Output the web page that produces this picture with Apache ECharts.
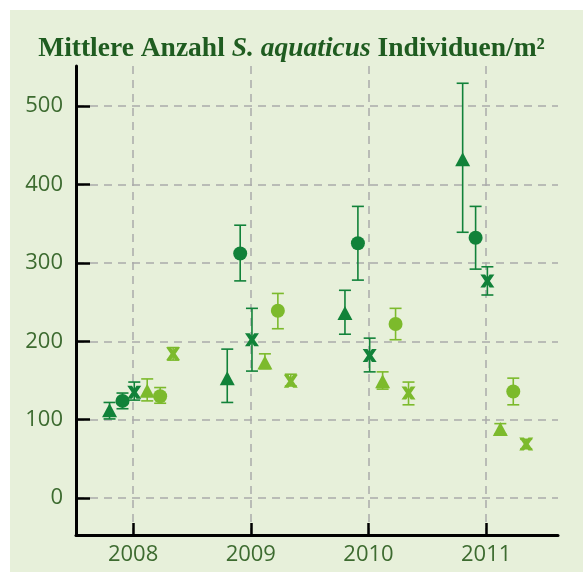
<!DOCTYPE html>
<html>
<head>
<meta charset="UTF-8">
<title>S. aquaticus</title>
<script src="https://cdn.jsdelivr.net/npm/echarts@6/dist/echarts.min.js"></script>
<style>
  html, body { margin: 0; padding: 0; background: #ffffff; }
  #main { width: 583px; height: 572px; }
</style>
</head>
<body>
<div id="main"></div>
<script>
// tick labels
const yearTicks = [2008, 2009, 2010, 2011];
const valueTicks = [0, 100, 200, 300, 400, 500];

// rows: [sampling date (decimal year), mean, lower error, upper error]
const darkTriangle = [[2007.80, 112, 101, 122], [2008.80, 153, 122, 190], [2009.80, 236, 209, 265], [2010.80, 432, 339, 529]];
const darkCircle   = [[2007.91, 124, 114, 134], [2008.91, 312, 277, 348], [2009.91, 325, 278, 372], [2010.91, 332, 292, 372]];
const darkCross    = [[2008.01, 135, 125, 148], [2009.01, 202, 162, 242], [2010.01, 182, 161, 204], [2011.01, 277, 259, 295]];
const lightTriangle = [[2008.12, 137, 124, 152], [2009.12, 173, 165, 184], [2010.12, 149, 139, 161], [2011.12, 88, 82, 95]];
const lightCircle   = [[2008.23, 130, 121, 141], [2009.23, 239, 216, 261], [2010.23, 222, 202, 242], [2011.23, 136, 119, 153]];
const lightCross    = [[2008.34, 184, 176, 192], [2009.34, 149, 143, 158], [2010.34, 134, 119, 148], [2011.34, 69, 63, 75]];

const DARK = '#118239';
const LIGHT = '#7cba2c';
const crossPath = 'path://M0,0 L3.4,0 L5,2.6 L6.6,0 L10,0 L6.8,5 L10,10 L6.6,10 L5,7.4 L3.4,10 L0,10 L3.2,5 Z';

const groups = [
  { data: darkTriangle, color: DARK, symbol: 'triangle', size: [15, 14] },
  { data: darkCircle, color: DARK, symbol: 'circle', size: 14 },
  { data: darkCross, color: DARK, symbol: crossPath, size: [14, 13] },
  { data: lightTriangle, color: LIGHT, symbol: 'triangle', size: [15, 14] },
  { data: lightCircle, color: LIGHT, symbol: 'circle', size: 14 },
  { data: lightCross, color: LIGHT, symbol: crossPath, size: [14, 13] }
];

function errorBar(color) {
  return function(params, api) {
    const x = api.value(0);
    const lo = api.coord([x, api.value(2)]);
    const hi = api.coord([x, api.value(3)]);
    const half = 6;
    const style = { stroke: color, lineWidth: 1.6 };
    return {
      type: 'group',
      children: [
        { type: 'line', shape: { x1: lo[0], y1: lo[1], x2: hi[0], y2: hi[1] }, style },
        { type: 'line', shape: { x1: lo[0] - half, y1: lo[1], x2: lo[0] + half, y2: lo[1] }, style },
        { type: 'line', shape: { x1: hi[0] - half, y1: hi[1], x2: hi[0] + half, y2: hi[1] }, style }
      ]
    };
  };
}

const series = [];
groups.forEach((g, i) => {
  series.push({
    type: 'custom',
    renderItem: errorBar(g.color),
    data: g.data,
    encode: { x: 0, y: [1, 2, 3] },
    z: 2 + i * 2,
    silent: true
  });
  series.push({
    type: 'scatter',
    data: g.data.map(r => [r[0], r[1]]),
    symbol: g.symbol,
    symbolSize: g.size,
    itemStyle: { color: g.color, opacity: 1 },
    z: 3 + i * 2
  });
});

const gridLine = { show: true, lineStyle: { color: '#aaaaaa', width: 1.5, type: [8, 6] } };
const labelFont = { color: '#3d6b30', fontFamily: 'Open Sans', fontSize: 22 };

const chart = echarts.init(document.getElementById('main'), null, { renderer: 'canvas' });
chart.setOption({
  animation: false,
  graphic: [{
    type: 'rect', left: 10, top: 10, z: -10,
    shape: { width: 573, height: 562 },
    style: { fill: '#e7f0da' }
  }],
  title: {
    text: '{a|Mittlere Anzahl }{i|S. aquaticus}{a| Individuen/m²}',
    left: 'center',
    top: 30,
    textStyle: {
      rich: {
        a: { fontFamily: 'Liberation Serif', fontWeight: 'bold', fontSize: 27.5, color: '#1f5c20' },
        i: { fontFamily: 'Liberation Serif', fontWeight: 'bold', fontStyle: 'italic', fontSize: 27.5, color: '#1f5c20' }
      }
    }
  },
  grid: { left: 76, right: 25, top: 66, bottom: 37 },
  xAxis: {
    type: 'value',
    min: 2007.515,
    max: 2011.61,
    axisLine: { show: true, onZero: false, lineStyle: { color: '#000', width: 3 } },
    axisTick: { show: true, inside: true, length: 12, customValues: yearTicks, lineStyle: { color: '#000', width: 2.5 } },
    axisLabel: Object.assign({ customValues: yearTicks, margin: 9, formatter: v => String(v) }, labelFont),
    splitLine: gridLine
  },
  yAxis: {
    type: 'value',
    min: -47,
    max: 551,
    axisLine: { show: true, onZero: false, lineStyle: { color: '#000', width: 3 } },
    axisTick: { show: true, inside: true, length: 14, customValues: valueTicks, lineStyle: { color: '#000', width: 2.5 } },
    axisLabel: Object.assign({ customValues: valueTicks, margin: 13 }, labelFont),
    splitLine: gridLine
  },
  series
});
</script>
</body>
</html>
